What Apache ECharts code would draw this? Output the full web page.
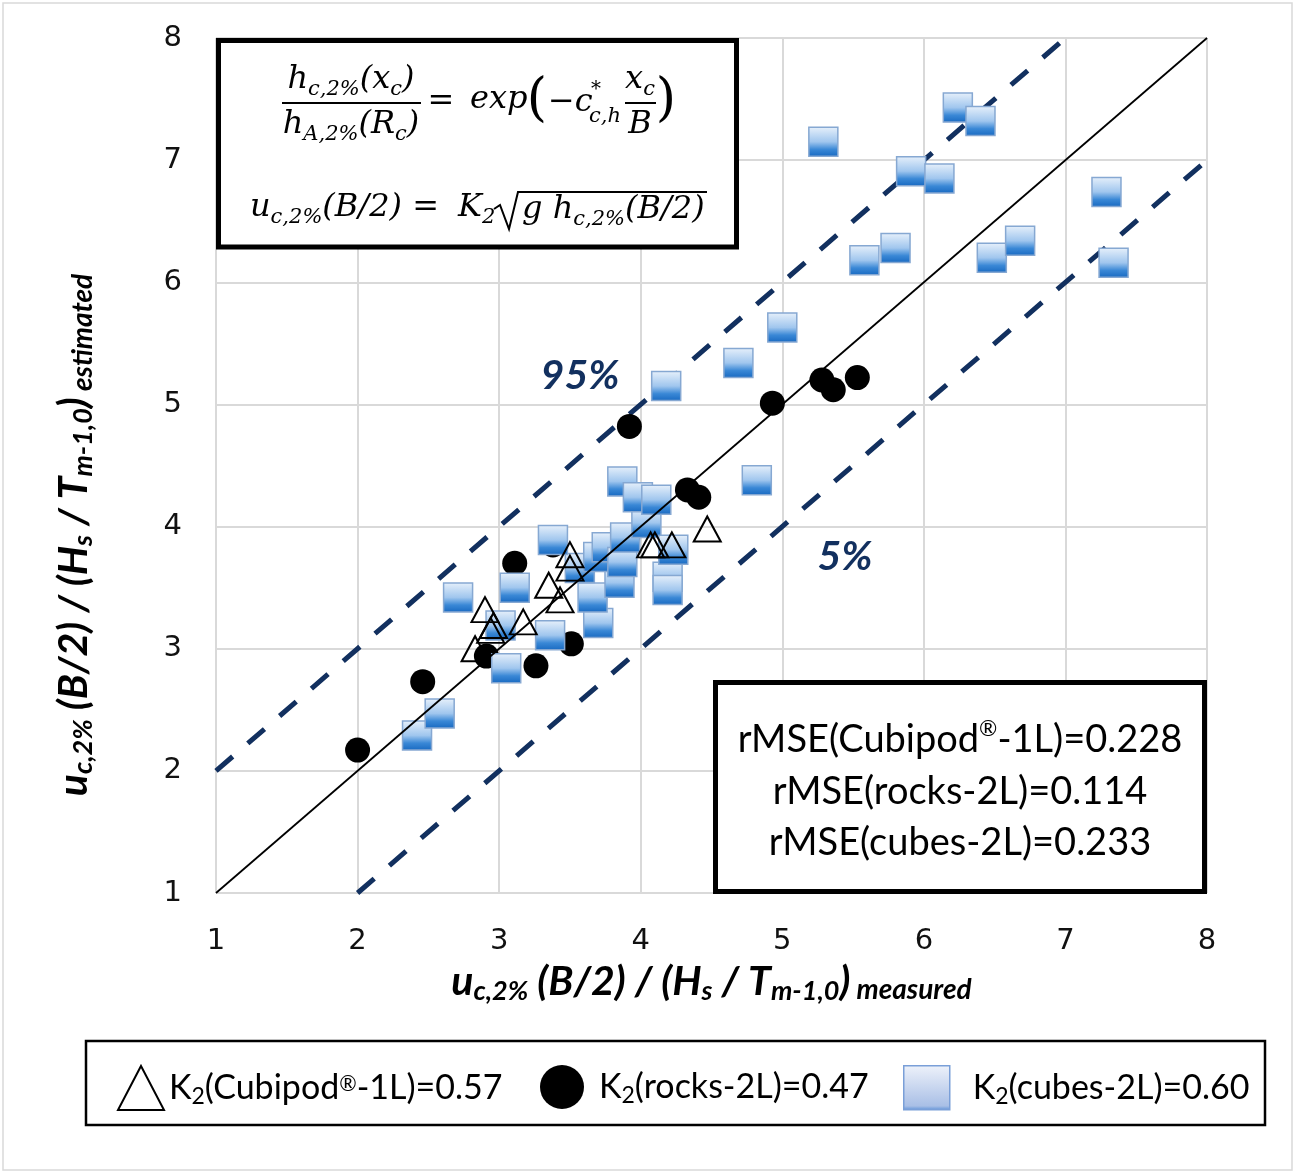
<!DOCTYPE html>
<html>
<head>
<meta charset="utf-8">
<script src="https://cdn.jsdelivr.net/npm/echarts@6/dist/echarts.min.js"></script>
<style>
html, body { margin: 0; padding: 0; background: #fff; }
#chart { width: 1296px; height: 1174px; }
</style>
</head>
<body>
<div id="chart"></div>
<script>
// measured vs estimated
var cubipod = [
	[2.90, 3.32], [2.94, 3.15], [2.96, 3.19], [2.83, 3.00], [3.17, 3.22],
	[3.35, 3.52], [3.43, 3.40], [3.50, 3.77], [3.50, 3.66], [4.07, 3.85],
	[4.10, 3.85], [4.22, 3.85], [4.47, 3.98]
];
var rocks = [
	[2.00, 2.17], [2.46, 2.73], [2.91, 2.94], [3.26, 2.86], [3.51, 3.04],
	[3.11, 3.70], [3.38, 3.85], [3.92, 4.82], [4.33, 4.30], [4.41, 4.24],
	[4.93, 5.01], [5.28, 5.20], [5.36, 5.12], [5.53, 5.22]
];
var cubes = [
	[2.42, 2.29], [2.58, 2.47], [3.05, 2.84], [3.01, 3.19], [3.36, 3.11],
	[3.70, 3.21], [2.71, 3.42], [3.11, 3.50], [3.66, 3.42], [3.85, 3.54],
	[3.57, 3.66], [3.38, 3.89], [3.70, 3.75], [3.76, 3.83], [3.87, 3.71],
	[3.89, 3.91], [4.04, 4.03], [3.87, 4.37], [3.98, 4.24], [4.11, 4.22],
	[4.19, 3.59], [4.19, 3.48], [4.23, 3.81], [4.82, 4.38], [4.18, 5.15],
	[4.69, 5.34], [5.00, 5.63], [5.58, 6.18], [5.80, 6.28], [6.48, 6.20],
	[6.68, 6.34], [7.34, 6.16], [7.29, 6.74], [5.91, 6.91], [6.11, 6.85],
	[5.29, 7.15], [6.24, 7.43], [6.40, 7.32]
];
// reference lines
var lineEqual = [[1, 1], [8, 8]];
var line95 = [[1, 2], [7, 8]];
var line5 = [[2, 1], [8, 7]];

var axisMin = 1, axisMax = 8, axisStep = 1;
var rmseLines = [
	'rMSE(Cubipod{r|®}-1L)=0.228',
	'rMSE(rocks-2L)=0.114',
	'rMSE(cubes-2L)=0.233'
];
var legendLabels = {
	'Cubipod': '{f|K}{s|2}{k|(Cubipod}{r|®}{k|-1L)=0.57}',
	'rocks': '{f|K}{s|2}{k|(rocks-2L)=0.47}',
	'cubes': '{f|K}{s|2}{k|(cubes-2L)=0.60}'
};

var chart = echarts.init(document.getElementById('chart'));

var navy = '#12305f';
var calibri = 'Lato';
var cubeFill = new echarts.graphic.LinearGradient(0, 0, 0, 1, [
	{ offset: 0, color: '#e8f1fb' },
	{ offset: 0.5, color: '#a0c6ee' },
	{ offset: 0.75, color: '#3a88d6' },
	{ offset: 1, color: '#1768c0' }
]);
var cubeLegendFill = new echarts.graphic.LinearGradient(0, 0, 0, 1, [
	{ offset: 0, color: '#eef2fa' },
	{ offset: 0.9, color: '#a9bfe6' },
	{ offset: 1, color: '#5b8fd6' }
]);

// titles: subscripts via rich text
var titleRich = {
	m: { fontFamily: calibri, fontWeight: 'bold', fontStyle: 'italic', fontSize: 41, lineHeight: 46, color: '#000' },
	s: { fontFamily: calibri, fontWeight: 'bold', fontStyle: 'italic', fontSize: 27, lineHeight: 25, verticalAlign: 'bottom', color: '#000' },
	e: { fontFamily: calibri, fontWeight: 'bold', fontStyle: 'italic', fontSize: 28, lineHeight: 25, verticalAlign: 'bottom', color: '#000' }
};
function axisTitle(word) {
	return '{m|u}{s|c,2%}{m| (B/2) / (H}{s|s}{m| / T}{s|m-1,0}{m|)}{e| ' + word + '}';
}

// formula pieces
var mathFont = 'DejaVu Serif';
var mathRich = {
	s: { fontFamily: mathFont, fontStyle: 'italic', fontSize: 21, lineHeight: 22, verticalAlign: 'bottom', fill: '#000' }
};
function mtext(x, y, str, extra) {
	return {
		type: 'text', x: x, y: y, z: 110,
		style: Object.assign({
			text: str, fontFamily: mathFont, fontStyle: 'italic', fontSize: 32, lineHeight: 40,
			fill: '#000', align: 'left', verticalAlign: 'middle', rich: mathRich
		}, extra || {})
	};
}
function mline(x1, y1, x2, y2) {
	return { type: 'line', z: 110, shape: { x1: x1, y1: y1, x2: x2, y2: y2 }, style: { stroke: '#000', lineWidth: 2 } };
}

var graphics = [
	// outer frame
	{ type: 'rect', z: -1, shape: { x: 3, y: 3, width: 1289, height: 1167 }, style: { fill: null, stroke: '#d9d9d9', lineWidth: 1.5 } },
	// formula box
	{ type: 'rect', z: 100, shape: { x: 218.5, y: 40.5, width: 518, height: 206.5 }, style: { fill: '#fff', stroke: '#000', lineWidth: 5 } },
	mtext(351, 80, 'h{s|c,2%}(x{s|c})', { align: 'center' }),
	mline(282, 103, 421, 103),
	mtext(351, 125, 'h{s|A,2%}(R{s|c})', { align: 'center' }),
	mtext(441, 102, '=', { align: 'center', fontStyle: 'normal' }),
	mtext(470, 100, 'exp'),
	mtext(537, 101, '(', { align: 'center', fontStyle: 'normal', fontSize: 52, lineHeight: 60 }),
	mtext(548, 103, '−c'),
	mtext(591, 90, '*', { fontSize: 20, lineHeight: 20, fontStyle: 'normal' }),
	mtext(589, 117, 'c,h', { fontSize: 21, lineHeight: 22 }),
	mtext(640, 80, 'x{s|c}', { align: 'center' }),
	mline(625, 103, 656, 103),
	mtext(640, 125, 'B', { align: 'center' }),
	mtext(666, 101, ')', { align: 'center', fontStyle: 'normal', fontSize: 52, lineHeight: 60 }),
	mtext(250, 208, 'u{s|c,2%}(B/2) ='),
	mtext(458, 208, 'K{s|2}'),
	{ type: 'polyline', z: 110, shape: { points: [[494, 209], [500, 205], [509, 229], [518, 192], [707, 192]] }, style: { stroke: '#000', lineWidth: 2, fill: null } },
	mtext(522, 210, 'g h{s|c,2%}(B/2)'),
	// rMSE box
	{ type: 'rect', z: 100, shape: { x: 715.5, y: 682.5, width: 489, height: 209 }, style: { fill: '#fff', stroke: '#000', lineWidth: 5 } },
	// legend box
	{ type: 'rect', z: 100, shape: { x: 86, y: 1041, width: 1179, height: 84 }, style: { fill: '#fff', stroke: '#000', lineWidth: 2.5 } },
	// percent labels
	{ type: 'text', x: 580, y: 376, z: 110, style: { text: '95%', fontFamily: calibri, fontWeight: 'bold', fontStyle: 'italic', fontSize: 41, fill: navy, align: 'center', verticalAlign: 'middle' } },
	{ type: 'text', x: 845, y: 557, z: 110, style: { text: '5%', fontFamily: calibri, fontWeight: 'bold', fontStyle: 'italic', fontSize: 41, fill: navy, align: 'center', verticalAlign: 'middle' } },
	// y title
	{ type: 'text', x: 74, y: 535, rotation: Math.PI / 2, z: 110, style: { text: axisTitle('estimated'), align: 'center', verticalAlign: 'middle', rich: titleRich } }
];
var rmseRich = {
	r: { fontFamily: calibri, fontSize: 22, lineHeight: 40, verticalAlign: 'top', fill: '#000', padding: [0, 0, 14, 0] }
};
rmseLines.forEach(function (t, i) {
	graphics.push({ type: 'text', x: 960, y: 740 + i * 51.5, z: 110, style: { text: t, fontFamily: calibri, fontSize: 38, lineHeight: 44, fill: '#000', align: 'center', verticalAlign: 'middle', rich: rmseRich } });
});

var legendRich = function (pad) {
	return {
		f: { fontFamily: calibri, fontSize: 34, lineHeight: 40, color: '#000', padding: [0, 0, 0, pad] },
		k: { fontFamily: calibri, fontSize: 34, lineHeight: 40, color: '#000' },
		r: { fontFamily: calibri, fontSize: 21, lineHeight: 20, verticalAlign: 'top', color: '#000', padding: [6, 0, 0, 0] },
		s: { fontFamily: calibri, fontSize: 23, lineHeight: 22, verticalAlign: 'bottom', color: '#000' }
	};
};
function legendItem(name, left, pad, extra) {
	return Object.assign({
		z: 120, left: left, top: 1065, padding: 0, itemWidth: 46, itemHeight: 44,
		data: [name], selectedMode: false,
		formatter: function (n) { return legendLabels[n]; },
		textStyle: { rich: legendRich(pad) }
	}, extra || {});
}

var splitStyle = { show: true, lineStyle: { color: '#d9d9d9', width: 2 } };
var option = {
	animation: false,
	backgroundColor: '#fff',
	grid: { left: 216, right: 89, top: 38, bottom: 281, outerBoundsMode: 'none' },
	xAxis: {
		type: 'value', min: axisMin, max: axisMax, interval: axisStep,
		axisLine: { show: false }, axisTick: { show: false },
		splitLine: splitStyle,
		axisLabel: { fontFamily: 'DejaVu Sans', fontSize: 29, color: '#111', margin: 34 },
		name: axisTitle('measured'), nameLocation: 'middle', nameGap: 64,
		nameTextStyle: { rich: titleRich }
	},
	yAxis: {
		type: 'value', min: axisMin, max: axisMax, interval: axisStep,
		axisLine: { show: false }, axisTick: { show: false },
		splitLine: splitStyle,
		axisLabel: { fontFamily: 'DejaVu Sans', fontSize: 29, color: '#111', margin: 34 }
	},
	legend: [
		legendItem('Cubipod', 117, 0),
		legendItem('rocks', 540, 9),
		legendItem('cubes', 903, 18, {
			data: [{ name: 'cubes', itemStyle: { color: cubeLegendFill, borderColor: '#7a9fd8', borderWidth: 1.5 } }]
		})
	],
	graphic: graphics,
	series: [
		{
			name: 'line95', type: 'line', data: line95, symbol: 'none', silent: true, z: 1,
			lineStyle: { color: navy, width: 5, type: [22, 20] }
		},
		{
			name: 'line5', type: 'line', data: line5, symbol: 'none', silent: true, z: 1,
			lineStyle: { color: navy, width: 5, type: [22, 20] }
		},
		{
			name: 'rocks', type: 'scatter', data: rocks, symbol: 'circle', symbolSize: 25,
			itemStyle: { color: '#000', opacity: 1 }
		},
		{
			name: 'cubes', type: 'scatter', data: cubes, symbol: 'rect', symbolSize: 29,
			itemStyle: { color: cubeFill, borderColor: '#86a8d2', borderWidth: 1.5, opacity: 1 }
		},
		{
			name: 'Cubipod', type: 'scatter', data: cubipod, symbol: 'triangle', symbolSize: [27, 25],
			itemStyle: { color: 'rgba(255,255,255,0)', borderColor: '#000', borderWidth: 2, opacity: 1 }
		},
		{
			name: 'equal', type: 'line', data: lineEqual, symbol: 'none', silent: true, z: 3,
			lineStyle: { color: '#000', width: 1.8 }
		}
	]
};
chart.setOption(option);
</script>
</body>
</html>
